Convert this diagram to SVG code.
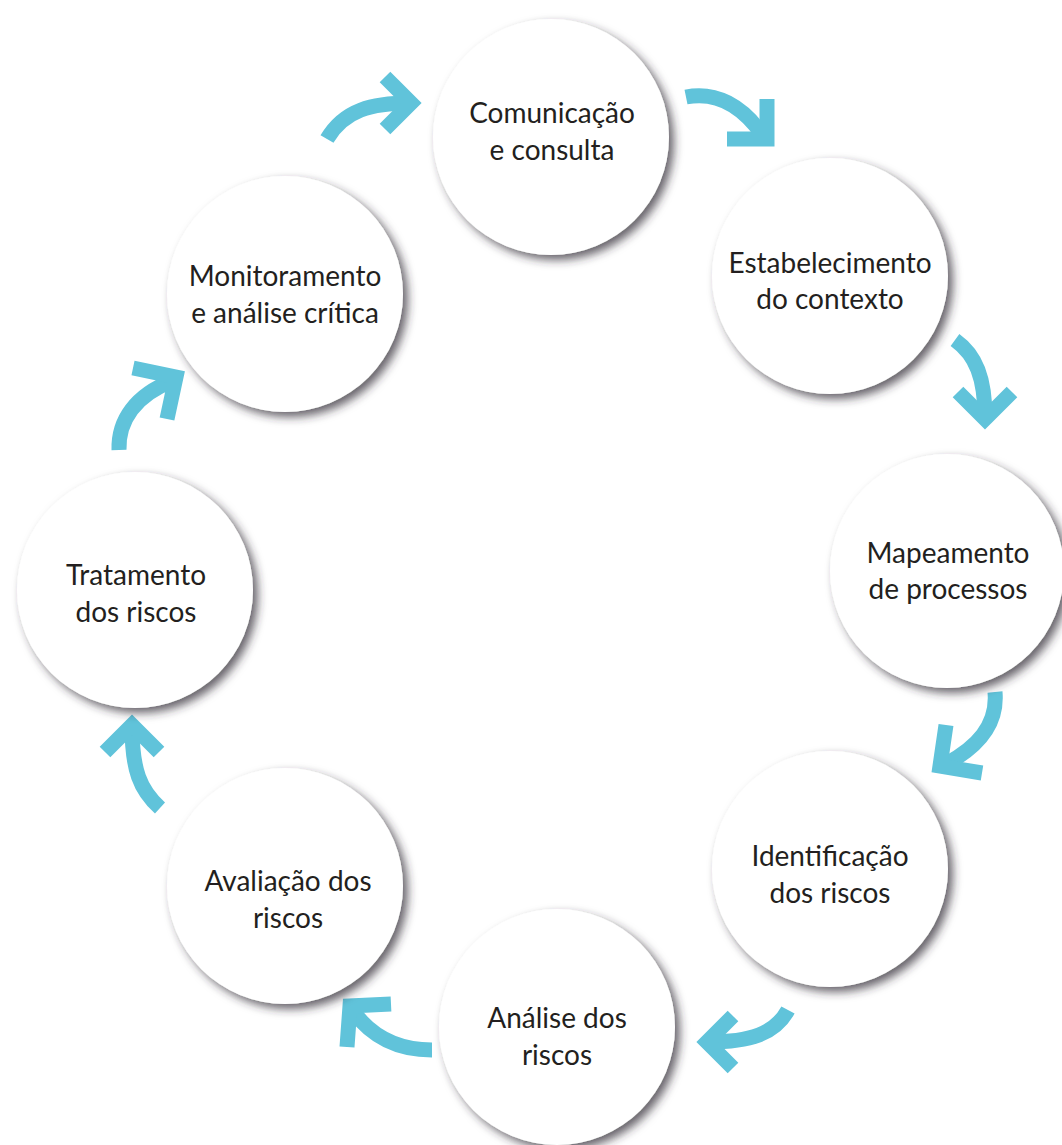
<svg xmlns="http://www.w3.org/2000/svg" width="1062" height="1145" viewBox="0 0 1062 1145">
  <defs>
    <filter id="soft-shadow" x="-20%" y="-20%" width="140%" height="140%">
      <feDropShadow dx="5" dy="5" stdDeviation="5" flood-color="#2f2833" flood-opacity="0.72"/>
    </filter>
    <style>
      .node circle { fill: #ffffff; filter: url(#soft-shadow); }
      .node text { font-family: "Lato", "Open Sans", sans-serif; font-size: 28px; fill: #231f20; text-anchor: middle; }
      .flow path { fill: none; stroke: #60c3da; stroke-width: 15; stroke-linecap: butt; stroke-linejoin: miter; stroke-miterlimit: 10; }
    </style>
  </defs>
  <rect width="1062" height="1145" fill="#ffffff"/>

  <g id="connectors" class="flow">
    <!-- monitoramento -> comunicacao -->
    <path d="M327,139 C344,110 372,103 410,103"/>
    <path d="M385,77 L411,103 L385,129"/>
    <!-- comunicacao -> estabelecimento -->
    <path d="M686,97 C716,91 742,106 762,134"/>
    <path d="M767,99 L767,139 L727,139"/>
    <!-- estabelecimento -> mapeamento -->
    <path d="M955,340 C976,355 985,378 985,418"/>
    <path d="M958,392 L985,419 L1012,392"/>
    <!-- mapeamento -> identificacao -->
    <path d="M995,692 C998,726 976,748 946,764"/>
    <path d="M946,725 L940,766 L982,773"/>
    <!-- identificacao -> analise -->
    <path d="M788,1010 C775,1034 750,1042 708,1042"/>
    <path d="M733,1016 L707,1042 L733,1068"/>
    <!-- analise -> avaliacao -->
    <path d="M432,1050 C396,1050 371,1036 353,1011"/>
    <path d="M391,1004 L350,1006 L347,1047"/>
    <!-- avaliacao -> tratamento -->
    <path d="M160,808 C140,790 132,770 132,726"/>
    <path d="M105,752 L132,725 L159,752"/>
    <!-- tratamento -> monitoramento -->
    <path d="M119,450 C118,420 136,395 172,381"/>
    <path d="M133,368 L176,377 L167,419"/>
  </g>

  <g id="node-comunicacao" class="node">
    <circle cx="551" cy="137" r="118"/>
    <text x="552" y="123">Comunicação</text>
    <text x="552" y="160">e consulta</text>
  </g>
  <g id="node-estabelecimento" class="node">
    <circle cx="830" cy="276" r="118"/>
    <text x="830" y="273">Estabelecimento</text>
    <text x="830" y="309">do contexto</text>
  </g>
  <g id="node-mapeamento" class="node">
    <circle cx="947" cy="571" r="117"/>
    <text x="948" y="563">Mapeamento</text>
    <text x="948" y="599">de processos</text>
  </g>
  <g id="node-identificacao" class="node">
    <circle cx="830" cy="869" r="118"/>
    <text x="830" y="866">Identificação</text>
    <text x="830" y="903">dos riscos</text>
  </g>
  <g id="node-analise" class="node">
    <circle cx="557" cy="1027" r="118"/>
    <text x="557" y="1028">Análise dos</text>
    <text x="557" y="1065">riscos</text>
  </g>
  <g id="node-avaliacao" class="node">
    <circle cx="285" cy="886" r="118"/>
    <text x="288" y="891">Avaliação dos</text>
    <text x="288" y="928">riscos</text>
  </g>
  <g id="node-tratamento" class="node">
    <circle cx="135" cy="590" r="118"/>
    <text x="136" y="585">Tratamento</text>
    <text x="136" y="622">dos riscos</text>
  </g>
  <g id="node-monitoramento" class="node">
    <circle cx="285" cy="294" r="118"/>
    <text x="285" y="286">Monitoramento</text>
    <text x="285" y="323">e análise crítica</text>
  </g>
</svg>
